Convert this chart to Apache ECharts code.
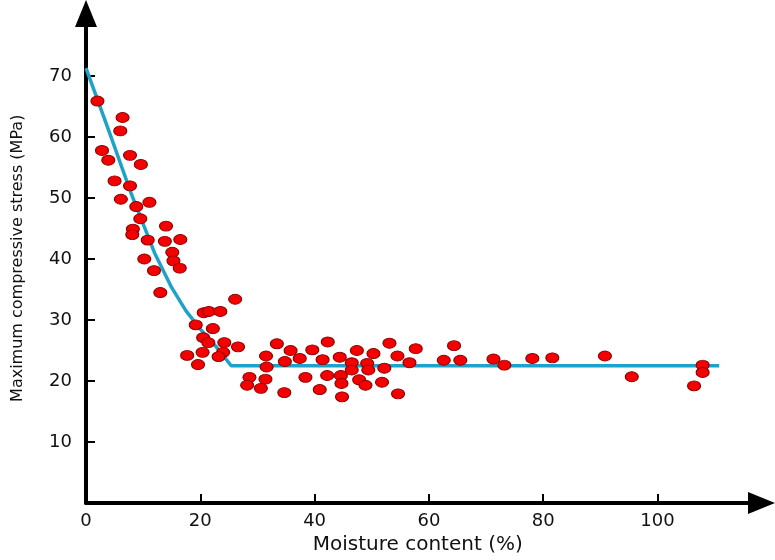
<!DOCTYPE html>
<html>
<head>
<meta charset="UTF-8">
<title>Moisture content vs compressive stress</title>
<script src="https://cdn.jsdelivr.net/npm/echarts@6.0.0/dist/echarts.min.js"></script>
<style>
html,body{margin:0;padding:0;background:#fff;}
#chart{width:775px;height:560px;}
</style>
</head>
<body>
<div id="chart"></div>
<script type="text/javascript">
// measured points: moisture content (%) and stress (MPa)
var moisture = [
  2.0, 6.4, 6.0, 2.8, 3.9, 7.7, 9.6, 5.0, 7.7, 6.1, 11.1, 8.8, 9.5, 14.0, 8.2, 8.1, 10.8, 13.8, 16.5, 15.1, 10.2, 15.3, 16.4, 11.9, 13.0,
  26.1, 20.6, 21.5, 23.5, 19.2, 22.2, 20.5, 21.4, 24.2, 26.6, 17.7, 20.4, 24.0, 23.2, 19.6, 28.6, 28.2,
  33.4, 35.8, 31.5, 39.6, 42.3, 34.8, 37.4, 41.4, 44.4, 47.4, 50.3, 53.1, 54.5, 57.7, 56.6, 62.6, 64.4, 65.5,
  31.6, 46.5, 49.2, 46.5, 49.4, 52.2,
  31.4, 30.6, 34.7, 38.4, 42.2, 44.6, 44.7, 40.9, 44.8, 47.8, 48.9, 51.8, 54.6,
  71.3, 73.2, 78.1, 81.6, 90.8, 95.5, 107.9, 107.9, 106.4
];
var stress = [
  65.9, 63.2, 61.0, 57.8, 56.2, 57.0, 55.5, 52.8, 52.0, 49.8, 49.3, 48.6, 46.6, 45.4, 44.9, 44.0, 43.1, 42.9, 43.2, 41.1, 40.0, 39.7, 38.5, 38.1, 34.5,
  33.4, 31.2, 31.4, 31.4, 29.2, 28.6, 27.1, 26.3, 26.3, 25.6, 24.2, 24.7, 24.7, 24.0, 22.7, 20.6, 19.3,
  26.1, 25.0, 24.1, 25.1, 26.4, 23.2, 23.7, 23.5, 23.9, 25.0, 24.5, 26.2, 24.1, 25.3, 23.0, 23.4, 25.8, 23.4,
  22.3, 23.0, 22.9, 21.8, 21.8, 22.1,
  20.3, 18.8, 18.1, 20.6, 20.9, 20.9, 19.6, 18.6, 17.4, 20.2, 19.3, 19.8, 17.9,
  23.6, 22.6, 23.7, 23.8, 24.1, 20.7, 22.6, 21.4, 19.2
];
// fitted trend line
var fitX = [0, 4, 8, 12, 15, 17.5, 20, 22.8, 25.4, 110.8];
var fitY = [71.3, 61, 50.5, 41, 35.3, 31.5, 28.5, 25.6, 22.5, 22.5];

var xTicks = [0, 20, 40, 60, 80, 100];
var yTicks = [10, 20, 30, 40, 50, 60, 70];

var points = [];
for (var i = 0; i < moisture.length; i++) {
  points.push([moisture[i], stress[i]]);
}
var fit = [];
for (var j = 0; j < fitX.length; j++) {
  fit.push([fitX[j], fitY[j]]);
}

var font = '"DejaVu Sans", sans-serif';

var option = {
  animation: false,
  grid: { left: 86, right: 13.5, top: 13.5, bottom: 57 },
  xAxis: {
    type: 'value',
    min: 0, max: 118.2,
    name: 'Moisture content (%)',
    nameLocation: 'middle',
    nameGap: 32,
    nameTextStyle: { fontFamily: font, fontSize: 20, color: '#111', padding: [0, 12, 0, 0] },
    axisLine: { show: true, symbol: ['none', 'triangle'], symbolSize: [22, 27],
      lineStyle: { color: '#000', width: 4 } },
    axisTick: { show: true, inside: true, length: 9, customValues: xTicks,
      lineStyle: { color: '#000', width: 2 } },
    axisLabel: { margin: 9, fontFamily: font, fontSize: 18, color: '#111', customValues: xTicks },
    splitLine: { show: false }
  },
  yAxis: {
    type: 'value',
    min: 0, max: 80.25,
    name: 'Maximum compressive stress (MPa)',
    nameLocation: 'middle',
    nameGap: 60,
    nameTextStyle: { fontFamily: font, fontSize: 16, color: '#111' },
    axisLine: { show: true, symbol: ['none', 'triangle'], symbolSize: [22, 27],
      lineStyle: { color: '#000', width: 4 } },
    axisTick: { show: true, inside: true, length: 9, customValues: yTicks,
      lineStyle: { color: '#000', width: 2 } },
    axisLabel: { margin: 14, fontFamily: font, fontSize: 18, color: '#111', customValues: yTicks },
    splitLine: { show: false }
  },
  series: [
    {
      type: 'line',
      data: fit,
      symbol: 'none',
      z: 2,
      lineStyle: { color: '#1fa2c9', width: 3.5 }
    },
    {
      type: 'scatter',
      data: points,
      symbol: 'circle',
      symbolSize: [13, 10],
      z: 3,
      itemStyle: { color: '#f50000', borderColor: '#8a0000', borderWidth: 1, opacity: 1 }
    }
  ]
};

var myChart = echarts.init(document.getElementById('chart'));
myChart.setOption(option);
</script>
</body>
</html>
